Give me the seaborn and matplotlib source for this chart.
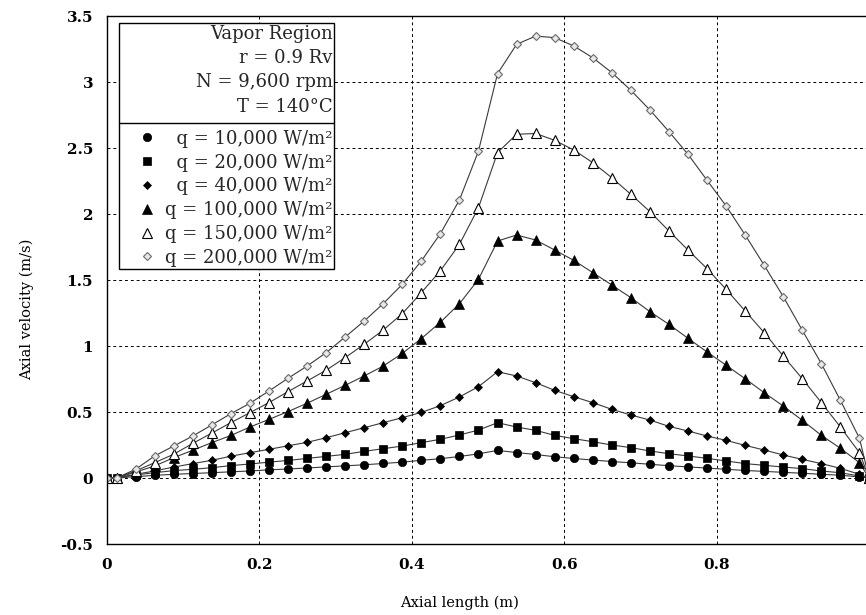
import numpy as np
import pandas as pd
import matplotlib
matplotlib.use("Agg")
import matplotlib.pyplot as plt
import seaborn as sns
from matplotlib.lines import Line2D
from matplotlib.transforms import IdentityTransform

# ---------------- data ----------------
axial_length = [0, 0.0125, 0.0375, 0.0625, 0.0875, 0.1125, 0.1375, 0.1625, 0.1875,
                0.2125, 0.2375, 0.2625, 0.2875, 0.3125, 0.3375, 0.3625, 0.3875,
                0.4125, 0.4375, 0.4625, 0.4875, 0.5125, 0.5375, 0.5625, 0.5875,
                0.6125, 0.6375, 0.6625, 0.6875, 0.7125, 0.7375, 0.7625, 0.7875,
                0.8125, 0.8375, 0.8625, 0.8875, 0.9125, 0.9375, 0.9625, 0.9875, 1.0]

q10k = [0, 0,
        0.010, 0.020, 0.028, 0.034, 0.040, 0.047, 0.053, 0.062, 0.068, 0.076,
        0.084, 0.092, 0.100, 0.110, 0.120, 0.134, 0.146, 0.163, 0.183, 0.209,
        0.193, 0.178, 0.161, 0.148, 0.136, 0.125, 0.115, 0.104, 0.093, 0.084,
        0.075, 0.066, 0.057, 0.050, 0.043, 0.036, 0.028, 0.021, 0.008,
        0]
q20k = [0, 0,
        0.023, 0.040, 0.056, 0.066, 0.078, 0.094, 0.106, 0.120, 0.133, 0.148,
        0.164, 0.179, 0.202, 0.222, 0.242, 0.268, 0.293, 0.326, 0.363, 0.419,
        0.386, 0.361, 0.323, 0.298, 0.275, 0.250, 0.230, 0.205, 0.184, 0.167,
        0.149, 0.129, 0.109, 0.096, 0.083, 0.071, 0.053, 0.040, 0.015,
        0]
q40k = [0, 0,
        0.028, 0.053, 0.083, 0.109, 0.134, 0.165, 0.192, 0.217, 0.244, 0.270,
        0.305, 0.343, 0.381, 0.419, 0.457, 0.497, 0.548, 0.614, 0.692, 0.805,
        0.773, 0.722, 0.664, 0.616, 0.571, 0.520, 0.477, 0.439, 0.391, 0.356,
        0.318, 0.285, 0.247, 0.212, 0.174, 0.141, 0.109, 0.073, 0.028,
        0]
q100k = [0, 0,
         0.045, 0.091, 0.154, 0.210, 0.268, 0.322, 0.386, 0.444, 0.503, 0.566,
         0.634, 0.702, 0.773, 0.848, 0.944, 1.056, 1.180, 1.320, 1.505, 1.795,
         1.841, 1.803, 1.727, 1.649, 1.556, 1.462, 1.366, 1.260, 1.164, 1.058,
         0.955, 0.854, 0.752, 0.646, 0.545, 0.437, 0.323, 0.225, 0.116,
         0]
q150k = [0, 0,
         0.053, 0.116, 0.180, 0.262, 0.340, 0.419, 0.495, 0.571, 0.654, 0.735,
         0.816, 0.912, 1.013, 1.121, 1.245, 1.404, 1.570, 1.770, 2.048, 2.465,
         2.604, 2.610, 2.558, 2.485, 2.389, 2.275, 2.149, 2.018, 1.871, 1.727,
         1.586, 1.429, 1.265, 1.101, 0.924, 0.752, 0.571, 0.386, 0.192,
         0]
q200k = [0, 0,
         0.066, 0.167, 0.242, 0.318, 0.402, 0.487, 0.566, 0.659, 0.755, 0.848,
         0.949, 1.068, 1.189, 1.321, 1.467, 1.644, 1.851, 2.106, 2.477, 3.063,
         3.285, 3.348, 3.336, 3.273, 3.184, 3.071, 2.937, 2.788, 2.624, 2.452,
         2.255, 2.061, 1.841, 1.611, 1.374, 1.119, 0.866, 0.588, 0.301,
         0]

series_values = [q10k, q20k, q40k, q100k, q150k, q200k]
series_labels = ["  q = 10,000 W/m²", "  q = 20,000 W/m²", "  q = 40,000 W/m²",
                 "q = 100,000 W/m²", "q = 150,000 W/m²", "q = 200,000 W/m²"]
header_lines = ["Vapor Region", "r = 0.9 Rv", "N = 9,600 rpm", "T = 140°C"]

x_ticks = [0, 0.2, 0.4, 0.6, 0.8, 1.0]
x_tick_labels = ["0", "0.2", "0.4", "0.6", "0.8", "1"]
y_ticks = [-0.5, 0, 0.5, 1.0, 1.5, 2.0, 2.5, 3.0, 3.5]
y_tick_labels = ["-0.5", "0", "0.5", "1", "1.5", "2", "2.5", "3", "3.5"]

# ---------------- style ----------------
sns.set_style("white")
plt.rcParams['font.family'] = ['DejaVu Serif']

marker_styles = [
    dict(marker='o', markersize=6.0, markerfacecolor='black', markeredgecolor='black', markeredgewidth=0.5),
    dict(marker='s', markersize=5.6, markerfacecolor='black', markeredgecolor='black', markeredgewidth=0.5),
    dict(marker='D', markersize=4.0, markerfacecolor='black', markeredgecolor='black', markeredgewidth=0.5),
    dict(marker='^', markersize=7.0, markerfacecolor='black', markeredgecolor='black', markeredgewidth=0.5),
    dict(marker='^', markersize=6.8, markerfacecolor='white', markeredgecolor='black', markeredgewidth=0.8),
    dict(marker='D', markersize=4.2, markerfacecolor='#e8e8e8', markeredgecolor='#6a6a6a', markeredgewidth=0.8),
]

W, H = 866, 615
fig = plt.figure(figsize=(W / 100, H / 100), dpi=100)
ax = fig.add_axes([107 / W, 1 - 544 / H, 762 / W, 528 / H])

for vals, lab, st in zip(series_values, series_labels, marker_styles):
    sns.lineplot(x=axial_length, y=vals, ax=ax, color='#3a3a3a', linewidth=0.8,
                 label=lab, legend=False, sort=False, **st)

ax.set_xlim(0, 1)
ax.set_ylim(-0.5, 3.5)
ax.set_xticks(x_ticks, x_tick_labels)
ax.set_yticks(y_ticks, y_tick_labels)
ax.tick_params(axis='both', length=0, pad=10, labelsize=11, labelcolor='black')
for t in ax.get_xticklabels() + ax.get_yticklabels():
    t.set_fontweight('bold')

ax.set_axisbelow(True)
ax.grid(True, color='black', linestyle=(0, (3, 3)), linewidth=0.7)

for side in ['left', 'bottom', 'top']:
    ax.spines[side].set_color('black')
    ax.spines[side].set_linewidth(1.0)
ax.spines['right'].set_visible(False)

ax.set_xlabel("Axial length (m)", fontsize=10.5, color='black')
ax.set_ylabel("Axial velocity (m/s)", fontsize=10.5, color='black')
ax.xaxis.set_label_coords(0.463, -0.098)
ax.yaxis.set_label_coords(-0.096, 0.445)

handles, labels = ax.get_legend_handles_labels()
leg = ax.legend(handles, labels, title="\n".join(header_lines),
                loc='upper left', bbox_to_anchor=((119 - 107) / 762, (544 - 23) / 528),
                borderaxespad=0, fontsize=13, title_fontsize=13,
                alignment='right', fancybox=False, framealpha=1,
                borderpad=0.1, labelspacing=0.32, handlelength=2.9,
                handletextpad=-0.45, numpoints=1)
leg.get_frame().set_edgecolor('black')
leg.get_frame().set_linewidth(1.0)
leg.get_title().set_multialignment('right')
leg.get_title().set_linespacing(1.45)
leg._legend_box.sep = 13 * 0.32 + 6.0  # extra gap between header and entries
for h in leg.legend_handles:
    h.set_linestyle('none')

fig.canvas.draw()
renderer = fig.canvas.get_renderer()
tb = leg._legend_title_box.get_window_extent(renderer)
hb = leg._legend_handle_box.get_window_extent(renderer)
fb = leg.get_frame().get_window_extent(renderer)
ydiv = (tb.y0 + hb.y1) / 2
fig.add_artist(Line2D([fb.x0, fb.x1], [ydiv, ydiv], transform=IdentityTransform(),
                      color='black', linewidth=1.0, zorder=10))

fig.savefig("out.png", dpi=100)
